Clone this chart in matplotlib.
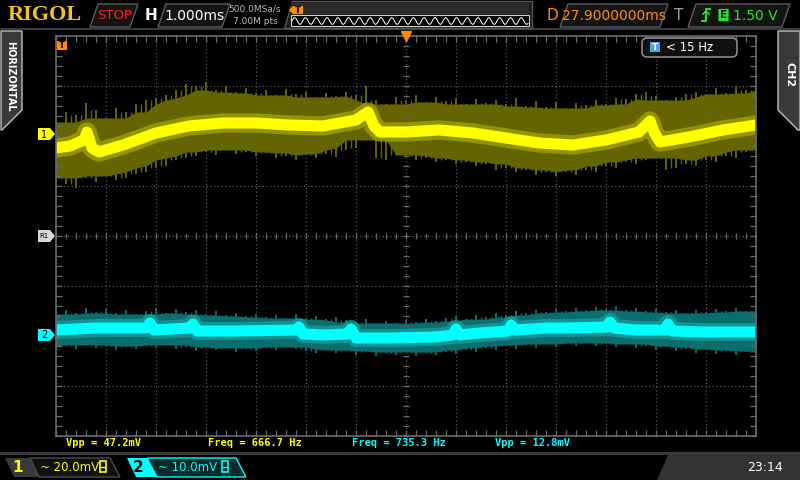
import matplotlib as mpl

mpl.use('Agg')
import matplotlib.pyplot as plt
from matplotlib.patches import Polygon, FancyBboxPatch, Rectangle
import numpy as np

# ---- scope settings ----
time_per_div = 1.0      # ms/div
delay_ms = 27.9
ch1_scale = 20.0        # mV/div
ch2_scale = 10.0
ch1_offset = 2.04       # div above centre
ch2_offset = -1.98

# ---- channel 1 (mV relative to its ground marker) ----
ch1_core_t = [-7.0, -6.72, -6.44, -6.38, -6.28, -6.14, -5.66, -5.0, -4.34, -3.66, -3.0,
              -2.34, -1.66, -1.0, -0.76, -0.64, -0.52, 0.0, 0.66, 1.34, 2.0, 2.66, 3.34,
              4.0, 4.66, 4.88, 4.96, 5.08, 5.66, 6.34, 7.0]
ch1_core_v = [-5.6, -4.8, -2.4, 0.8, -5.6, -7.2, -4.4, 0.4, 3.2, 4.4, 4.4,
              3.6, 3.2, 5.6, 8.8, 3.2, 0.8, 0.8, 1.6, 0.4, -1.6, -3.6, -4.4,
              -2.4, 0.8, 5.2, 0.8, -3.2, -1.2, 1.6, 3.6]
ch1_upper = [4.8, 8.8, 7.6, 12.4, 9.6, 6.4, 10.4, 8.8, 12.0, 13.6, 14.4, 15.6, 17.6, 20.0,
             19.2, 20.8, 17.6, 19.2, 16.8, 18.4, 16.4, 17.6, 15.6, 18.0, 16.0, 16.8, 14.8,
             16.4, 15.2, 16.8, 15.6, 19.2, 13.6, 12.0, 14.8, 13.6, 15.6, 12.8, 14.8, 13.2,
             14.4, 12.0, 14.0, 12.4, 13.6, 12.0, 14.4, 11.2, 13.2, 10.8, 12.8, 10.4, 12.4,
             11.6, 13.6, 12.0, 14.4, 14.0, 16.0, 16.8, 15.2, 13.6, 14.8, 16.0, 16.8, 16.0,
             18.4, 16.4, 19.2, 17.6, 18.4]
ch1_lower = [-17.6, -20.0, -21.6, -17.6, -19.2, -16.8, -18.4, -17.6, -16.0, -15.2, -13.6,
             -12.8, -10.4, -9.6, -8.8, -7.2, -8.4, -6.4, -8.0, -7.2, -8.8, -7.6, -9.6, -8.8,
             -10.4, -8.4, -9.6, -8.0, -9.2, -6.4, -5.6, -2.4, -9.6, -10.4, -8.4, -8.8, -10.4,
             -9.6, -11.2, -10.4, -12.0, -11.2, -12.8, -12.0, -14.4, -13.6, -15.2, -14.4,
             -16.4, -15.2, -16.8, -15.2, -16.4, -14.4, -15.2, -12.8, -13.6, -11.2, -12.0,
             -10.4, -9.6, -14.4, -13.6, -12.0, -12.8, -10.4, -11.2, -8.8, -9.6, -7.2, -6.4]

# ---- channel 2 ----
ch2_core_t = [-7.0, -6.2, -5.2, -5.12, -5.04, -4.32, -4.26, -4.18, -3.42, -2.2, -2.14, -2.06,
              -1.64, -1.16, -1.1, -1.0, -0.3, 0.58, 0.94, 1.0, 1.08, 1.48, 2.04, 2.1, 2.18,
              2.82, 3.26, 4.02, 4.08, 4.16, 4.6, 5.18, 5.24, 5.32, 5.94, 7.0]
ch2_core_v = [1.0, 1.4, 1.4, 2.4, 1.0, 1.4, 2.2, 0.8, 0.8, 1.0, 1.6, 0.2,
              0.0, 0.2, 1.2, -0.6, -0.6, -0.4, 0.0, 1.2, 0.0, 0.4, 0.8, 2.0, 1.0,
              1.4, 1.4, 1.6, 2.6, 1.4, 1.0, 1.0, 2.2, 0.8, 0.6, 0.6]
ch2_upper = [4.2, 5.0, 4.4, 5.4, 4.6, 5.2, 4.4, 5.0, 4.2, 4.8, 5.4, 4.4, 5.2, 4.6, 5.0, 4.2,
             4.8, 4.0, 4.4, 3.8, 4.2, 3.6, 4.0, 3.4, 4.2, 3.4, 3.8, 3.2, 3.6, 3.0, 2.6, 3.2,
             2.4, 2.8, 2.4, 3.0, 2.6, 3.2, 2.8, 3.4, 3.8, 3.2, 4.0, 3.6, 4.4, 4.0, 4.8, 4.4,
             5.0, 4.6, 5.2, 4.8, 5.4, 5.0, 5.6, 5.2, 5.8, 5.0, 5.4, 4.8, 5.2, 4.6, 5.0, 4.4,
             5.0, 4.6, 5.2, 4.8, 5.4, 4.8, 5.0]
ch2_lower = [-3.0, -2.2, -2.8, -2.0, -2.6, -2.2, -3.0, -2.4, -2.8, -2.2, -2.6, -2.0, -2.8,
             -2.4, -3.2, -2.6, -3.0, -2.6, -3.4, -2.8, -3.2, -2.6, -3.0, -2.4, -2.8, -3.2,
             -3.6, -3.0, -3.6, -3.2, -4.0, -3.4, -4.2, -3.6, -4.0, -3.4, -4.2, -3.6, -4.0,
             -3.4, -3.8, -3.0, -3.4, -2.6, -3.0, -2.2, -2.8, -2.0, -2.6, -1.8, -2.4, -1.8,
             -2.2, -1.6, -2.2, -1.8, -2.4, -1.8, -2.6, -2.2, -3.0, -2.4, -3.2, -2.8, -3.6,
             -3.0, -3.8, -3.2, -4.0, -3.4, -3.8]

# ---- text on screen ----
measurements = [('Vpp = 47.2mV', 66, '#ffff00'), ('Freq = 666.7 Hz', 208, '#ffff00'),
                ('Freq = 735.3 Hz', 352, '#00ffff'), ('Vpp = 12.8mV', 495, '#00ffff')]

YEL = '#ffff00'
CYN = '#00ffff'
ORG = '#ff8c00'
GRN = '#22e822'


def to_div(v, scale, offset):
    return offset + np.asarray(v) / scale


def slant_box(ui, x0, x1, y0, y1, fc='#141414', ec='#5c5c5c', skew=8, lw=1.0):
    pts = [(x0 + skew, y0), (x1 + skew, y0), (x1, y1), (x0, y1)]
    ui.add_patch(Polygon(pts, closed=True, fc=fc, ec=ec, lw=lw, zorder=2))


def neighbour(a, fn, w=2):
    # value shared by a sample and its neighbours = dense part of the noise
    p = np.pad(np.asarray(a, dtype=float), w, mode='edge')
    n = len(a)
    return fn(np.vstack([p[k:k + n] for k in range(2 * w + 1)]), axis=0)


def noisy_trace(ax, t, lower, upper, scale, offset, color):
    lo = to_div(lower, scale, offset)
    up = to_div(upper, scale, offset)
    dense_lo = neighbour(lo, np.max)
    dense_up = neighbour(up, np.min)
    ax.fill_between(t, dense_lo, dense_up, color=color, lw=0)
    ax.vlines(t, lo, up, color=color, lw=1.4)
    ax.vlines(t[:-1] + (t[1] - t[0]) / 2, np.maximum(lo[:-1], lo[1:]),
              np.minimum(up[:-1], up[1:]), color=color, lw=1.0)


def Draw():
    fig = plt.figure(figsize=(8, 4.8), dpi=100, facecolor='black')

    # ---------- interface layer in pixel coords ----------
    ui = fig.add_axes([0, 0, 1, 1])
    ui.set_xlim(0, 800)
    ui.set_ylim(480, 0)
    ui.axis('off')

    # top bar
    ui.add_patch(Rectangle((0, 28), 800, 2, fc='#3a3a3a', ec='none'))
    ui.text(45, 15, 'RIGOL', family='Liberation Serif', weight='bold', fontsize=16,
            color='#f2c41c', ha='center', va='center')
    slant_box(ui, 90, 130, 4, 27)
    ui.text(115, 15.5, 'STOP', color='#ff2020', fontsize=9.5, ha='center', va='center')
    ui.text(151, 15.5, 'H', color='white', weight='bold', fontsize=11, ha='center', va='center')
    slant_box(ui, 158, 222, 4, 27)
    ui.text(195, 15.5, '1.000ms', color='white', fontsize=10, ha='center', va='center')
    ui.text(255, 9, '500.0MSa/s', color='#b8b8b8', fontsize=6.5, ha='center', va='center')
    ui.text(255, 21, '7.00M pts', color='#b8b8b8', fontsize=6.5, ha='center', va='center')

    # memory overview
    ui.add_patch(Polygon([(292, 1), (532, 1), (532, 28), (284, 28)], closed=True,
                         fc='#1c1c1c', ec='#555555', lw=1))
    ui.add_patch(Rectangle((291, 3), 238, 11, fc='#2a2a2a', ec='none'))
    ui.add_patch(Rectangle((291, 15), 238, 11, fc='black', ec='#cfcfcf', lw=0.8))
    wave_shape = [0, -0.7, -1, -0.7, 0, 0.7, 1, 0.7]
    wx = 292 + np.arange(8 * 22) * (236 / (8 * 22 - 1))
    wy = 21 + 3.5 * np.array(wave_shape * 22)
    ui.plot(wx, wy, color='white', lw=0.7)
    ui.add_patch(Polygon([(289, 10), (293, 6), (303, 6), (303, 14), (293, 14)], closed=True,
                         fc=ORG, ec='none', zorder=4))
    ui.text(298, 10.3, 'T', color='black', fontsize=6, weight='bold', ha='center', va='center',
            zorder=5)

    ui.text(552, 15.5, 'D', color=ORG, fontsize=11, ha='center', va='center')
    slant_box(ui, 560, 660, 4, 27)
    ui.text(614, 15.5, '27.9000000ms', color=ORG, fontsize=10, ha='center', va='center')
    ui.text(679, 15.5, 'T', color='#a0a0a0', fontsize=11, ha='center', va='center')
    slant_box(ui, 688, 782, 4, 27)
    ui.plot([702, 706, 706, 710], [21, 21, 9, 9], color=GRN, lw=1.4, zorder=4)
    ui.plot([703, 706, 709], [14, 11, 14], color=GRN, lw=1.2, zorder=4)
    ui.add_patch(FancyBboxPatch((719, 9.5), 9, 11, boxstyle='round,pad=0.6', fc=GRN, ec='none',
                                zorder=4))
    ui.text(723.5, 15.3, 'E', color='black', fontsize=7.5, weight='bold', ha='center',
            va='center', zorder=5)
    ui.text(755, 15.5, '1.50 V', color=GRN, fontsize=10, ha='center', va='center')

    # side tabs
    ui.add_patch(Polygon([(1, 31), (22, 31), (22, 110), (2, 130), (1, 130)], closed=True,
                         fc='#3a3a3a', ec='#bdbdbd', lw=1))
    ui.text(10.5, 76, 'HORIZONTAL', color='white', fontsize=7, weight='bold', rotation=-90,
            ha='center', va='center')
    ui.add_patch(Polygon([(778, 31), (800, 31), (800, 130), (798, 130), (778, 110)],
                         closed=True, fc='#3a3a3a', ec='#bdbdbd', lw=1))
    ui.text(789.5, 75, 'CH2', color='white', fontsize=8, weight='bold', rotation=-90,
            ha='center', va='center')

    # measurement line
    for txt, x, c in measurements:
        ui.text(x, 443, txt, color=c, fontsize=7.5, weight='bold', family='DejaVu Sans Mono',
                ha='left', va='center')
    ui.add_patch(Rectangle((0, 452), 800, 3, fc='#3a3a3a', ec='none'))

    # bottom bar
    ui.add_patch(Polygon([(5, 458), (35, 458), (44, 477), (14, 477)], closed=True,
                         fc='#3a3a3a', ec='none'))
    ui.text(18, 467, '1', color=YEL, fontsize=11, weight='bold', ha='center', va='center')
    ui.add_patch(Polygon([(30, 458), (110, 458), (120, 477), (39, 477)], closed=True,
                         fc='#111111', ec='#4a4a4a', lw=1))
    ui.text(40, 467.5, '~ 20.0mV', color=YEL, fontsize=8.5, ha='left', va='center')
    ui.add_patch(Rectangle((100, 461), 6, 11, fc='none', ec=YEL, lw=1.2))
    ui.plot([101, 105], [466.5, 466.5], color=YEL, lw=1)
    ui.add_patch(Polygon([(127, 458), (147, 458), (157, 477), (136, 477)], closed=True,
                         fc=CYN, ec='none'))
    ui.text(138, 467, '2', color='black', fontsize=11, weight='bold', ha='center', va='center')
    ui.add_patch(Polygon([(147, 458), (236, 458), (246, 477), (157, 477)], closed=True,
                         fc='#0a2a2a', ec=CYN, lw=1))
    ui.text(158, 467.5, '~ 10.0mV', color=CYN, fontsize=8.5, ha='left', va='center')
    ui.add_patch(Rectangle((222, 461), 6, 11, fc='none', ec=CYN, lw=1.2))
    ui.plot([223, 227], [466.5, 466.5], color=CYN, lw=1)
    ui.add_patch(Polygon([(668, 455), (800, 455), (800, 480), (657, 480)], closed=True,
                         fc='#333333', ec='none'))
    ui.text(765, 467.5, '23:14', color='white', fontsize=9, ha='center', va='center')

    # channel markers beside the grid
    def tag(y, fc, label, fsize=7):
        ui.add_patch(Polygon([(38, y - 6), (50, y - 6), (55, y), (50, y + 6), (38, y + 6)],
                             closed=True, fc=fc, ec='none'))
        ui.text(44.5, y + 0.5, label, color='black', fontsize=fsize, ha='center', va='center')

    tag(236 - ch1_offset * 50, YEL, '1')
    tag(236 - ch2_offset * 50, CYN, '2')
    tag(236, '#d8d8d8', 'R1', 5)

    # ---------- scope grid ----------
    ax = fig.add_axes([56 / 800, 44 / 480, 700 / 800, 400 / 480])
    ax.set_facecolor('black')
    ax.set_xlim(-7 * time_per_div, 7 * time_per_div)
    ax.set_ylim(-4, 4)
    for s in ax.spines.values():
        s.set_color('#6a6a6a')
        s.set_linewidth(1.2)
    ax.set_xticks(np.arange(-7, 7.01, 1))
    ax.set_yticks(np.arange(-4, 4.01, 1))
    ax.set_xticks(np.arange(-7, 7.01, 0.2), minor=True)
    ax.set_yticks(np.arange(-4, 4.01, 0.2), minor=True)
    ax.tick_params(which='both', direction='in', length=4, width=0.9, color='#6a6a6a',
                   top=True, right=True, labelbottom=False, labelleft=False)
    ax.grid(True, which='major', color='#5a5a5a', lw=0.9, ls=(0, (1, 2)))
    ax.plot(np.arange(-7, 7.01, 0.2), np.zeros(71), ls='none', marker='|', ms=4.5,
            mew=0.9, color='#6a6a6a')
    ax.plot(np.zeros(41), np.arange(-4, 4.01, 0.2), ls='none', marker='_', ms=4.5,
            mew=0.9, color='#6a6a6a')

    # ---------- traces ----------
    t1 = np.linspace(-7, 7, len(ch1_upper))
    noisy_trace(ax, t1, ch1_lower, ch1_upper, ch1_scale, ch1_offset, '#646400')
    c1 = to_div(ch1_core_v, ch1_scale, ch1_offset)
    ax.plot(ch1_core_t, c1, color='#a8a800', lw=14, alpha=0.7, solid_joinstyle='round')
    ax.plot(ch1_core_t, c1, color=YEL, lw=8, solid_joinstyle='round')

    t2 = np.linspace(-7, 7, len(ch2_upper))
    noisy_trace(ax, t2, ch2_lower, ch2_upper, ch2_scale, ch2_offset, '#0a6e6e')
    c2 = to_div(ch2_core_v, ch2_scale, ch2_offset)
    ax.plot(ch2_core_t, c2, color='#1a9a9a', lw=13, alpha=0.8, solid_joinstyle='round')
    ax.plot(ch2_core_t, c2, color=CYN, lw=8, solid_joinstyle='round')

    # in-grid markers (drawn on the interface layer above the grid)
    ax.plot([0], [4], marker='v', ms=7, color=ORG, clip_on=False, zorder=5)
    ui.set_zorder(ax.get_zorder() + 1)
    ui.patch.set_visible(False)
    ui.add_patch(Rectangle((57, 41), 10, 9, fc=ORG, ec='none', zorder=5))
    ui.text(62, 45.8, 'T', color='black', fontsize=6, weight='bold', ha='center', va='center',
            zorder=6)
    ui.add_patch(FancyBboxPatch((643, 39), 93, 17, boxstyle='round,pad=1,rounding_size=5',
                                fc='#101010', ec='#8a8a8a', lw=1.2, zorder=4))
    ui.add_patch(Rectangle((650, 42), 10, 10, fc='#4aa8e0', ec='none', zorder=5))
    ui.text(655, 47.3, 'T', color='white', fontsize=6.5, weight='bold', ha='center',
            va='center', zorder=6)
    ui.text(666, 47.5, '< 15 Hz', color='white', fontsize=8.5, ha='left', va='center', zorder=6)

    plt.savefig('out.png', dpi=100, facecolor='black')


if __name__ == "__main__":
    Draw()
